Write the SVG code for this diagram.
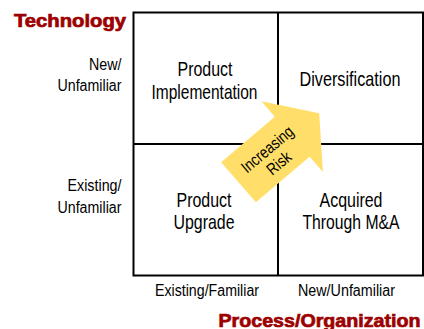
<svg xmlns="http://www.w3.org/2000/svg" width="424" height="329" viewBox="0 0 424 329">
  <style>
    .grid { fill: none; stroke: #000; stroke-width: 2; }
    .lbl { font-family: "Liberation Sans", Arial, sans-serif; fill: #000; }
    .quad { font-size: 19.8px; text-anchor: middle; }
    .axis { font-size: 17.3px; }
    .title { font-family: "Liberation Sans", Arial, sans-serif; font-weight: bold; font-size: 18.5px; fill: #9c0000; stroke: #9c0000; stroke-width: 0.7; }
    .arrow { fill: #ffdf6a; }
  </style>
  <rect width="424" height="329" fill="#fff"/>

  <!-- axis titles -->
  <g id="title-technology">
    <text class="title" x="14" y="27" textLength="112" lengthAdjust="spacingAndGlyphs">Technology</text>
  </g>
  <g id="title-process">
    <text class="title" x="218.5" y="326.5" textLength="202" lengthAdjust="spacingAndGlyphs">Process/Organization</text>
  </g>

  <!-- row labels -->
  <g id="row-new" class="lbl axis" text-anchor="end">
    <text x="121.5" y="69.5" textLength="32.5" lengthAdjust="spacingAndGlyphs">New/</text>
    <text x="121.5" y="91" textLength="64" lengthAdjust="spacingAndGlyphs">Unfamiliar</text>
  </g>
  <g id="row-existing" class="lbl axis" text-anchor="end">
    <text x="121.5" y="191" textLength="54" lengthAdjust="spacingAndGlyphs">Existing/</text>
    <text x="121.5" y="213" textLength="64" lengthAdjust="spacingAndGlyphs">Unfamiliar</text>
  </g>

  <!-- column labels -->
  <g id="col-existing" class="lbl axis" text-anchor="middle">
    <text x="207" y="296" textLength="104" lengthAdjust="spacingAndGlyphs">Existing/Familiar</text>
  </g>
  <g id="col-new" class="lbl axis" text-anchor="middle">
    <text x="346.5" y="296" textLength="97" lengthAdjust="spacingAndGlyphs">New/Unfamiliar</text>
  </g>

  <!-- matrix -->
  <g id="matrix">
    <rect class="grid" x="133.5" y="12.5" width="289.5" height="263"/>
    <line class="grid" x1="278" y1="12.5" x2="278" y2="275.5"/>
    <line class="grid" x1="133.5" y1="144" x2="423" y2="144"/>
  </g>

  <!-- quadrant cells -->
  <g id="cell-product-implementation" class="lbl quad">
    <text x="205" y="76" textLength="55" lengthAdjust="spacingAndGlyphs">Product</text>
    <text x="204.5" y="99" textLength="106" lengthAdjust="spacingAndGlyphs">Implementation</text>
  </g>
  <g id="cell-diversification" class="lbl quad">
    <text x="350" y="86" textLength="101" lengthAdjust="spacingAndGlyphs">Diversification</text>
  </g>
  <g id="cell-product-upgrade" class="lbl quad">
    <text x="204" y="206.5" textLength="55" lengthAdjust="spacingAndGlyphs">Product</text>
    <text x="204" y="228.5" textLength="61" lengthAdjust="spacingAndGlyphs">Upgrade</text>
  </g>
  <g id="cell-acquired" class="lbl quad">
    <text x="351" y="206.5" textLength="63" lengthAdjust="spacingAndGlyphs">Acquired</text>
    <text x="351" y="228.5" textLength="97" lengthAdjust="spacingAndGlyphs">Through M&amp;A</text>
  </g>

  <!-- risk arrow -->
  <g id="risk-arrow">
    <polygon class="arrow" points="221.1,162.2 274.8,116.7 261.5,101.3 319.2,113.3 322.9,172.1 309.6,156.7 255.9,202.2"/>
    <g transform="translate(272.5,155.5) rotate(-40)" class="lbl" font-size="16.5" text-anchor="middle">
      <text x="0" y="-2.5" textLength="62.5" lengthAdjust="spacingAndGlyphs">Increasing</text>
      <text x="0" y="15.5" textLength="26.5" lengthAdjust="spacingAndGlyphs">Risk</text>
    </g>
  </g>
</svg>
